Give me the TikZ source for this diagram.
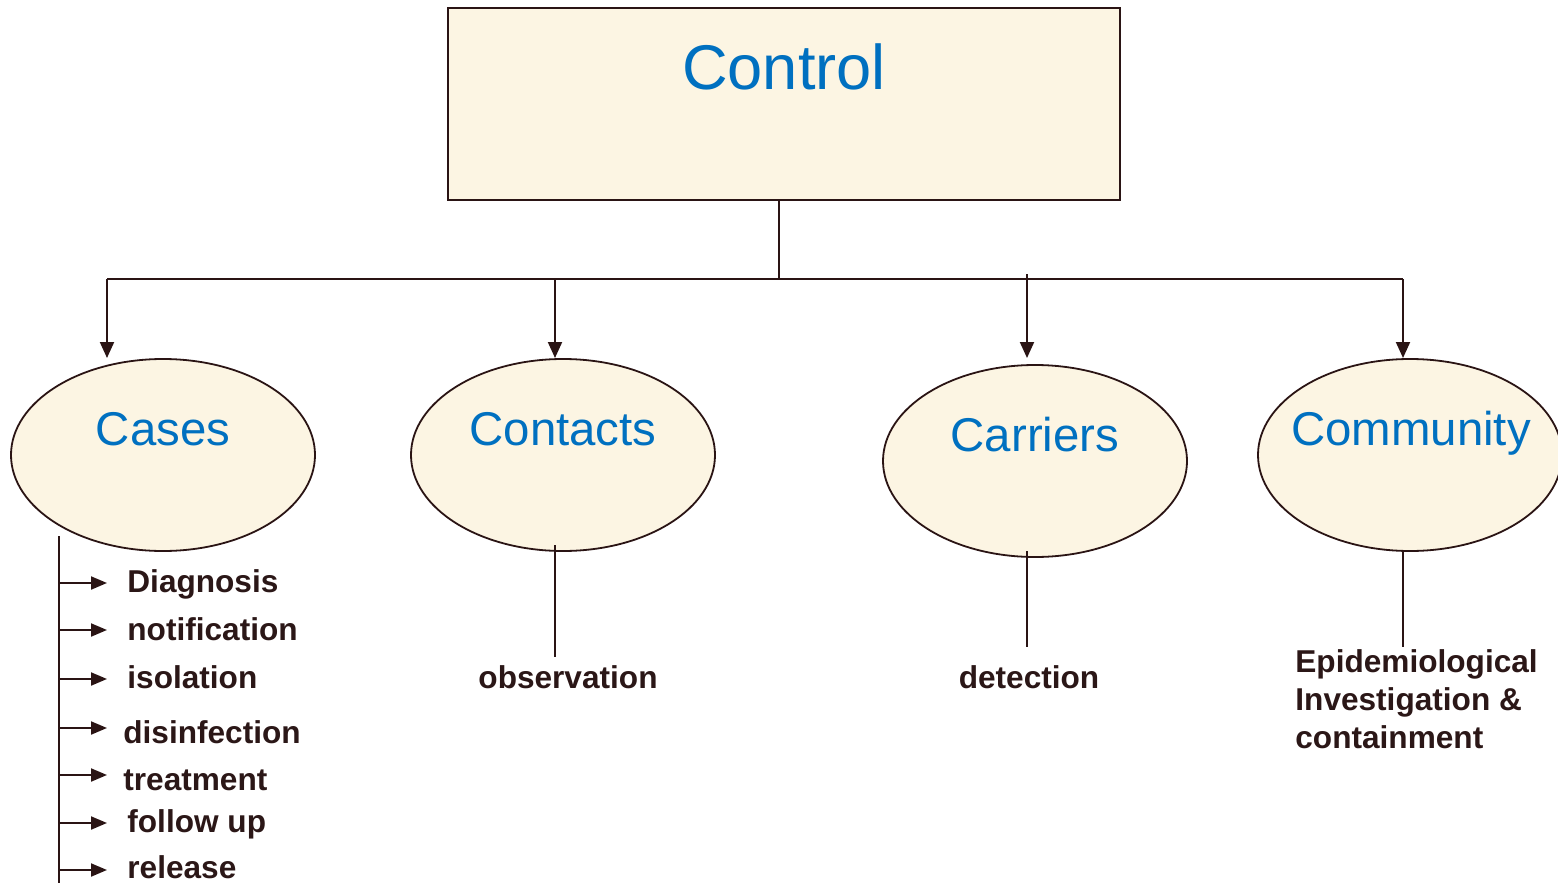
\documentclass[tikz,border=0pt]{standalone}
\usepackage{fontspec}
\setmainfont{Liberation Sans}
\usetikzlibrary{shapes.geometric,arrows.meta}
\definecolor{cream}{HTML}{FCF5E3}
\definecolor{edgec}{HTML}{2A1414}
\definecolor{ttl}{HTML}{0070C0}
\definecolor{lbl}{HTML}{2B1717}
\tikzset{
  box/.style={draw=edgec, fill=cream, line width=1.2pt, inner sep=0pt, minimum width=336pt, minimum height=96pt},
  oval/.style={ellipse, draw=edgec, fill=cream, line width=0.9pt, inner sep=0pt, minimum width=152pt, minimum height=96pt},
  bigtitle/.style={text=ttl, font=\fontsize{31.6pt}{36pt}\selectfont, inner sep=0pt, anchor=base},
  ovaltitle/.style={text=ttl, font=\fontsize{23.7pt}{28pt}\selectfont, inner sep=0pt, anchor=base},
  item/.style={text=lbl, font=\fontsize{15.8pt}{19pt}\selectfont\bfseries, inner sep=0pt, anchor=base west},
  citem/.style={text=lbl, font=\fontsize{15.8pt}{19pt}\selectfont\bfseries, inner sep=0pt, anchor=base},
  wire/.style={draw=edgec, line width=1pt},
  downarrow/.style={wire, -{Triangle[length=8pt,width=7pt]}},
  listarrow/.style={wire, -{Triangle[length=8pt,width=6.5pt]}}
}
\begin{document}
\begin{tikzpicture}[x=0.5pt,y=-0.5pt]
\useasboundingbox (0,0) rectangle (1558,883);
% top box
\node[box] (control) at (784,104) {};
\node[bigtitle] (controlT) at (784,90) {Control};
% ellipses
\node[oval] (cases) at (163,455) {};
\node[oval] (contacts) at (563,455) {};
\node[oval] (carriers) at (1035,461) {};
\node[oval] (community) at (1410,455) {};
\node[ovaltitle] (casesT) at (163,445) {Cases};
\node[ovaltitle] (contactsT) at (563,445) {Contacts};
\node[ovaltitle] (carriersT) at (1035,451) {Carriers};
\node[ovaltitle] (communityT) at (1411,445) {Community};
% bus
\coordinate (j) at (779,279);
\coordinate (b1) at (107,279);
\coordinate (b2) at (555,279);
\coordinate (b3) at (1027,279);
\coordinate (b3t) at (1027,274);
\coordinate (b4) at (1403,279);
\coordinate (t1) at (107,358);
\coordinate (t2) at (555,358);
\coordinate (t3) at (1027,358);
\coordinate (t4) at (1403,358);
\draw[wire] (control.south -| j) -- (j);
\draw[wire] (b1) -- (b4);
\draw[downarrow] (b1) -- (t1);
\draw[downarrow] (b2) -- (t2);
\draw[downarrow] (b3t) -- (t3);
\draw[downarrow] (b4) -- (t4);
% contacts branch
\node[citem] (obs) at (568,688) {observation};
\coordinate (c2s) at (555,545);
\coordinate (c2e) at (555,657);
\draw[wire] (c2s) -- (c2e);
% carriers branch
\node[citem] (det) at (1029,688) {detection};
\coordinate (c3s) at (1027,551);
\coordinate (c3e) at (1027,647);
\draw[wire] (c3s) -- (c3e);
% community branch
\coordinate (c4s) at (1403,551);
\coordinate (c4e) at (1403,647);
\draw[wire] (c4s) -- (c4e);
\node[item] (epi1) at (1295,672) {Epidemiological};
\node[item] (epi2) at (1295,710) {Investigation \&};
\node[item] (epi3) at (1295,748) {containment};
% cases branch
\coordinate (L) at (59,536);
\coordinate (Le) at (59,890);
\draw[wire] (L) -- (Le);
\node[item] (i1) at (127,592) {Diagnosis};
\node[item] (i2) at (127,640) {notification};
\node[item] (i3) at (127,688) {isolation};
\node[item] (i4) at (123,743) {disinfection};
\node[item] (i5) at (123,790) {treatment};
\node[item] (i6) at (127,832) {follow up};
\node[item] (i7) at (127,878) {release};
\coordinate (a1) at (107,583);
\coordinate (a2) at (107,630);
\coordinate (a3) at (107,679);
\coordinate (a4) at (107,728);
\coordinate (a5) at (107,775);
\coordinate (a6) at (107,823);
\coordinate (a7) at (107,870);
\foreach \k in {1,...,7} {
  \draw[listarrow] (L |- a\k) -- (a\k);
}
\end{tikzpicture}
\end{document}
